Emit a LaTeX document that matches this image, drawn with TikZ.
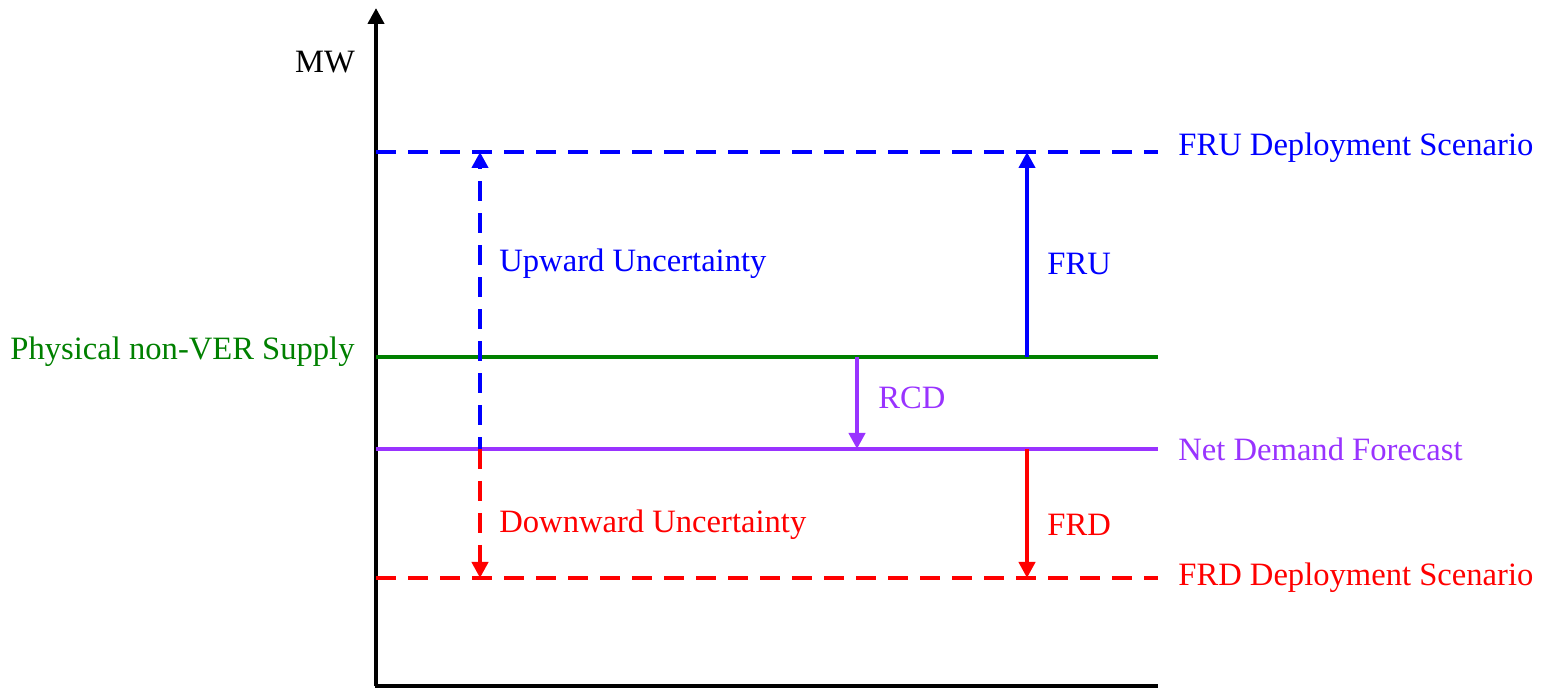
\documentclass[tikz,border=0pt]{standalone}
\usepackage{fontspec}
\setmainfont{Liberation Serif}
\usetikzlibrary{arrows.meta}
\definecolor{cblue}{RGB}{0,0,255}
\definecolor{cgreen}{RGB}{0,128,0}
\definecolor{cpurple}{RGB}{153,51,255}
\definecolor{cred}{RGB}{255,0,0}
\tikzset{
  lw/.style={line width=2pt},
  dsh/.style={lw, dash pattern=on 10pt off 6pt},
  tip/.style={-{Triangle[length=8pt,width=8pt]}},
  lbl/.style={font=\fontsize{16.3}{19}\selectfont, inner sep=0pt},
}
\begin{document}
\begin{tikzpicture}[x=0.5pt,y=-0.5pt]
\useasboundingbox (0,0) rectangle (1541,688);
% axes
\coordinate (o) at (376,686);
\coordinate (top) at (376,8);
\coordinate (xr) at (1158,686);
\draw[line width=2pt, -{Triangle[length=8pt,width=8pt]}] (o) -- (top);
\draw[line width=2pt] (375,686) -- (xr);
% horizontal lines
\coordinate (fruL) at (376,152); \coordinate (fruR) at (1158,152);
\coordinate (supL) at (376,357); \coordinate (supR) at (1158,357);
\coordinate (ndL) at (376,449); \coordinate (ndR) at (1158,449);
\coordinate (frdL) at (376,578); \coordinate (frdR) at (1158,578);
\draw[dsh, cblue] (fruL) -- (fruR);
\draw[lw, cgreen] (supL) -- (supR);
\draw[lw, cpurple] (ndL) -- (ndR);
\draw[dsh, cred] (frdL) -- (frdR);
% uncertainty arrow
\coordinate (uM) at (480,449);
\coordinate (uT) at (480,152);
\coordinate (uB) at (480,578);
\draw[dsh, cblue, tip, dash phase=4pt] (uM) -- (uT);
\draw[dsh, cred, tip] (uM) -- (uB);
% FRU / FRD
\coordinate (fruA) at (1027,357); \coordinate (fruB) at (1027,152);
\coordinate (frdA) at (1027,449); \coordinate (frdB) at (1027,578);
\draw[lw, cblue, tip] (fruA) -- (fruB);
\draw[lw, cred, tip] (frdA) -- (frdB);
% RCD
\coordinate (rcdA) at (857,357); \coordinate (rcdB) at (857,449);
\draw[lw, cpurple, tip] (rcdA) -- (rcdB);
% labels
\node[lbl] (mw) at (325,62) {MW};
\node[lbl, anchor=west, text=cblue] (up) at (499,264) {Upward Uncertainty};
\node[lbl, anchor=west, text=cblue] (fru) at (1047,264) {FRU};
\node[lbl, anchor=east, text=cgreen] (sup) at (355,352) {Physical non-VER Supply};
\node[lbl, anchor=west, text=cpurple] (rcd) at (878,398) {RCD};
\node[lbl, anchor=west, text=cblue] (frus) at (1178,148) {FRU Deployment Scenario};
\node[lbl, anchor=west, text=cpurple] (nd) at (1178,449) {Net Demand Forecast};
\node[lbl, anchor=west, text=cred] (down) at (499,525) {Downward Uncertainty};
\node[lbl, anchor=west, text=cred] (frd) at (1047,525) {FRD};
\node[lbl, anchor=west, text=cred] (frds) at (1178,578) {FRD Deployment Scenario};
\end{tikzpicture}
\end{document}
